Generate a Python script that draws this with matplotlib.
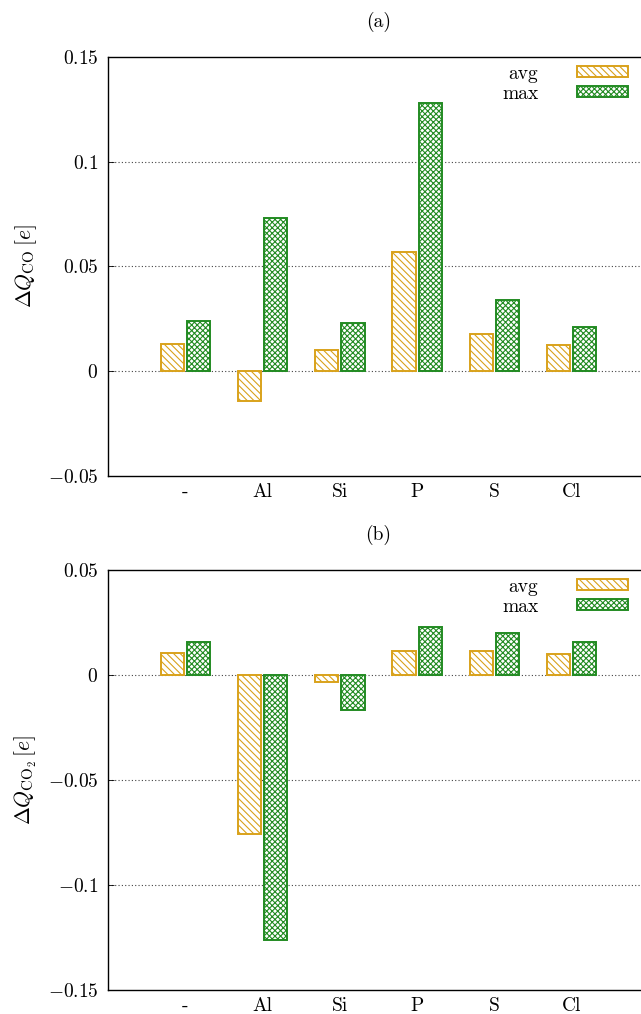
import matplotlib
matplotlib.use("Agg")
import matplotlib.pyplot as plt
import numpy as np

plt.rcParams['font.family'] = 'serif'
plt.rcParams['font.serif'] = ['cmr10']
plt.rcParams['mathtext.fontset'] = 'cm'
plt.rcParams['axes.unicode_minus'] = False
plt.rcParams['hatch.linewidth'] = 0.8

categories = ['-', 'Al', 'Si', 'P', 'S', 'Cl']

# panel (a): Delta Q_CO
co_avg = [0.0129, -0.0143, 0.0101, 0.0568, 0.0177, 0.0124]
co_max = [0.0239, 0.0730, 0.0229, 0.1280, 0.0339, 0.0210]

# panel (b): Delta Q_CO2
co2_avg = [0.0105, -0.0757, -0.0033, 0.0114, 0.0114, 0.0100]
co2_max = [0.0157, -0.1260, -0.0167, 0.0229, 0.0200, 0.0157]

avg_color = '#d9a21b'
max_color = '#228b22'

fig = plt.figure(figsize=(6.41, 10.14), dpi=100)

panels = [
    ('(a)', co_avg, co_max, (-0.05, 0.15), [-0.05, 0, 0.05, 0.1, 0.15],
     ['$-0.05$', '$0$', '$0.05$', '$0.1$', '$0.15$'],
     r'$\Delta Q_{\mathrm{CO}}\,[e]$', [0.1685, 0.5306, 0.844, 0.4132]),
    ('(b)', co2_avg, co2_max, (-0.15, 0.05), [-0.15, -0.1, -0.05, 0, 0.05],
     ['$-0.15$', '$-0.1$', '$-0.05$', '$0$', '$0.05$'],
     r'$\Delta Q_{\mathrm{CO_2}}\,[e]$', [0.1685, 0.0237, 0.844, 0.4142]),
]

x = np.arange(1, len(categories) + 1)
w = 0.30
off = 0.17

for title, avg, mx, ylim, yticks, ylabels, ylab, rect in panels:
    ax = fig.add_axes(rect)
    ax.bar(x - off, avg, width=w, facecolor='white', edgecolor=avg_color,
           hatch='\\\\\\\\\\', linewidth=1.4, label='avg', zorder=3)
    ax.bar(x + off, mx, width=w, facecolor='white', edgecolor=max_color,
           hatch='xxxxxx', linewidth=1.4, label='max', zorder=3)

    ax.set_xlim(0, 7)
    ax.set_ylim(*ylim)
    ax.set_xticks(x)
    ax.set_xticklabels(categories, fontsize=14)
    ax.tick_params(axis='x', length=0, pad=5)
    ax.set_yticks(yticks)
    ax.set_yticklabels(ylabels, fontsize=14)
    ax.tick_params(axis='y', direction='in', length=4, width=0.6, pad=7)

    # dotted grid, only inner lines
    for yv in yticks[1:-1]:
        ax.axhline(yv, color='#444444', linestyle=(0, (1, 2)), linewidth=0.8, zorder=1)

    for s in ax.spines.values():
        s.set_linewidth(1.0)

    ax.set_ylabel(ylab, fontsize=15.5, labelpad=6)
    ax.text(0.5, 1 + 35 / 419, title, transform=ax.transAxes,
            ha='center', va='center', fontsize=14)

    leg = ax.legend(loc='upper right', bbox_to_anchor=(0.975, 1.0), frameon=False,
                    markerfirst=False, fontsize=14, handlelength=2.6,
                    handleheight=0.5, labelspacing=0.1, borderaxespad=0.0,
                    handletextpad=2.0)

fig.savefig('out.png', dpi=100)
